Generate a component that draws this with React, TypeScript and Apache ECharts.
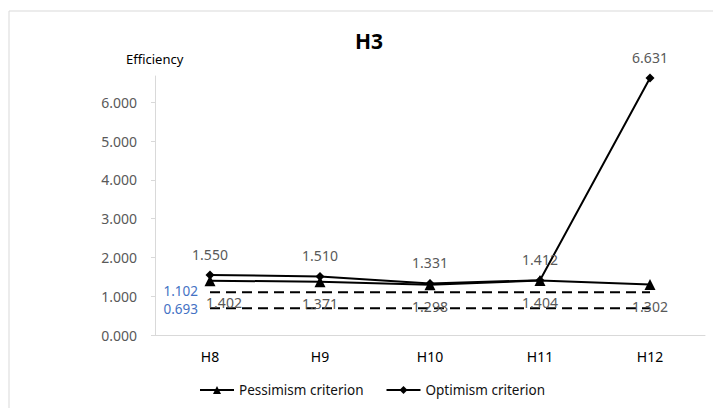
import React, { useEffect, useRef } from "react";
import * as echarts from "echarts";

const categories = ["H8", "H9", "H10", "H11", "H12"];
const pessimism = [1.402, 1.371, 1.298, 1.404, 1.302];
const optimism = [1.55, 1.51, 1.331, 1.412, 6.631];
const upperRef = [1.102, 1.102, 1.102, 1.102, 1.102];
const lowerRef = [0.693, 0.693, 0.693, 0.693, 0.693];
const yMax = 6.68;

const FONT = "'Noto Sans', 'Liberation Sans', sans-serif";

function refData(arr: number[], dy: number) {
  return arr.map((v, i) =>
    i === 0
      ? {
          value: v,
          symbol: "circle",
          symbolSize: 0,
          label: {
            show: true,
            position: "left",
            distance: 12,
            offset: [0, dy],
            color: "#4472C4",
            fontSize: 13.5,
            lineHeight: 14,
            fontFamily: FONT,
            formatter: (p: any) => Number(p.value).toFixed(3),
          },
        }
      : v
  );
}

function pessData(arr: number[]) {
  return arr.map((v, i) => (i === 0 ? { value: v, label: { offset: [14, 0] } } : v));
}

export default function App() {
  const ref = useRef<HTMLDivElement>(null);
  useEffect(() => {
    if (!ref.current) return;
    const chart = echarts.init(ref.current, null, { renderer: "svg" });
    chart.setOption({
      animation: false,
      backgroundColor: "#ffffff",
      title: {
        text: "H3",
        left: 350,
        top: 25,
        textStyle: { fontSize: 21, fontWeight: "bold", color: "#000", fontFamily: FONT },
      },
      graphic: [
        {
          type: "rect",
          shape: { x: 9, y: 11, width: 720, height: 420 },
          style: { fill: "none", stroke: "#D9D9D9", lineWidth: 1 },
          silent: true,
        },
        {
          type: "text",
          left: 126,
          top: 52,
          style: { text: "Efficiency", fontSize: 13, fill: "#000", fontFamily: FONT },
        },
      ],
      legend: {
        data: ["Pessimism criterion", "Optimism criterion"],
        left: 194,
        top: 378,
        itemWidth: 34,
        itemHeight: 10,
        itemGap: 22,
        textStyle: { fontSize: 13.5, color: "#111", fontFamily: FONT },
      },
      grid: { left: 155, right: 8, top: 76, bottom: 73 },
      xAxis: {
        type: "category",
        data: categories,
        boundaryGap: true,
        axisLine: { lineStyle: { color: "#D9D9D9" } },
        axisTick: { show: false },
        axisLabel: { color: "#000", fontSize: 14, margin: 14, fontFamily: FONT },
      },
      yAxis: {
        type: "value",
        min: 0,
        max: yMax,
        interval: 1,
        splitLine: { show: false },
        axisLine: { show: true, lineStyle: { color: "#D9D9D9" } },
        axisTick: { show: true, length: 4, lineStyle: { color: "#D9D9D9" } },
        axisLabel: {
          color: "#595959",
          fontSize: 14,
          margin: 18,
          fontFamily: FONT,
          showMaxLabel: false,
          formatter: (v: number) => v.toFixed(3),
        },
      },
      series: [
        {
          name: "Pessimism criterion",
          type: "line",
          data: pessData(pessimism),
          symbol: "triangle",
          symbolSize: 11,
          z: 3,
          itemStyle: { color: "#000" },
          lineStyle: { color: "#000", width: 2 },
          label: {
            show: true,
            position: "bottom",
            distance: 9,
            color: "#595959",
            fontSize: 14,
            fontFamily: FONT,
            formatter: (p: any) => Number(p.value).toFixed(3),
          },
        },
        {
          name: "Optimism criterion",
          type: "line",
          data: optimism,
          symbol: "diamond",
          symbolSize: 9,
          z: 4,
          itemStyle: { color: "#000" },
          lineStyle: { color: "#000", width: 2 },
          label: {
            show: true,
            position: "top",
            distance: 9,
            color: "#595959",
            fontSize: 14,
            fontFamily: FONT,
            formatter: (p: any) => Number(p.value).toFixed(3),
          },
        },
        {
          name: "Upper reference",
          type: "line",
          data: refData(upperRef, -1),
          symbol: "none",
          showSymbol: true,
          z: 2,
          lineStyle: { color: "#000", width: 2, type: [10, 6] },
        },
        {
          name: "Lower reference",
          type: "line",
          data: refData(lowerRef, 1),
          symbol: "none",
          showSymbol: true,
          z: 2,
          lineStyle: { color: "#000", width: 2, type: [10, 6] },
        },
      ],
    });
    return () => chart.dispose();
  }, []);
  return (
    <div
      ref={ref}
      style={{ position: "fixed", left: 0, top: 0, width: 713, height: 408 }}
    />
  );
}
